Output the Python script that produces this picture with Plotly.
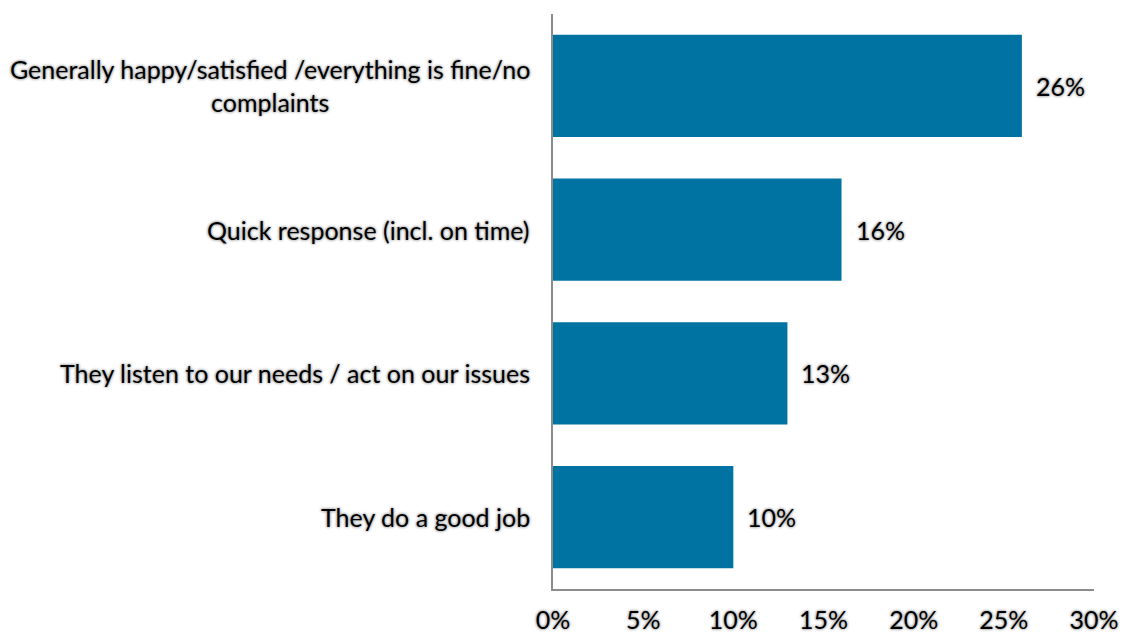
import plotly.graph_objects as go

categories = [
    "Generally happy/satisfied /everything is fine/no<br>complaints",
    "Quick response (incl. on time)",
    "They listen to our needs / act on our issues",
    "They do a good job",
]
values = [26, 16, 13, 10]
x_ticks = [0, 5, 10, 15, 20, 25, 30]
x_tick_labels = ["0%", "5%", "10%", "15%", "20%", "25%", "30%"]

BAR_COLOR = "#0073A3"
FONT = "Lato"
SIZE = 25
GLOW = "0px 0px 3px #9a9a9a, 0px 0px 3px #a8a8a8"

fig = go.Figure(
    go.Bar(
        x=values,
        y=categories,
        orientation="h",
        marker=dict(color=BAR_COLOR, line=dict(width=0)),
        hoverinfo="skip",
    )
)

# value labels just right of each bar end
for cat, v in zip(categories, values):
    fig.add_annotation(
        x=v, y=cat, xref="x", yref="y",
        text=f"{v}%", showarrow=False,
        xanchor="left", xshift=12,
        font=dict(family=FONT, size=SIZE, color="black", shadow=GLOW),
    )

# category labels, centred line by line, right edge near the axis
for cat in categories:
    fig.add_annotation(
        x=0, y=cat, xref="paper", yref="y",
        text=cat, showarrow=False,
        xanchor="right", xshift=-21, align="center",
        font=dict(family=FONT, size=SIZE, color="black", shadow=GLOW),
    )

fig.update_layout(
    width=1122, height=634,
    margin=dict(l=553, r=28, t=14, b=45),
    paper_bgcolor="white", plot_bgcolor="white",
    bargap=0.29,
    showlegend=False,
    font=dict(family=FONT, size=SIZE, color="black"),
    xaxis=dict(
        range=[0, 30],
        tickvals=x_ticks, ticktext=x_tick_labels,
        showgrid=False, zeroline=False,
        showline=True, linecolor="#8c8c8c", linewidth=1.5,
        ticks="", ticklabelstandoff=8, automargin=False,
        tickfont=dict(family=FONT, size=SIZE, color="black", shadow=GLOW),
        fixedrange=True,
    ),
    yaxis=dict(
        categoryorder="array", categoryarray=categories[::-1],
        showticklabels=False, automargin=False,
        showgrid=False, zeroline=False,
        showline=True, linecolor="#8c8c8c", linewidth=2,
        ticks="", fixedrange=True,
    ),
)

fig.write_html("out.html")
